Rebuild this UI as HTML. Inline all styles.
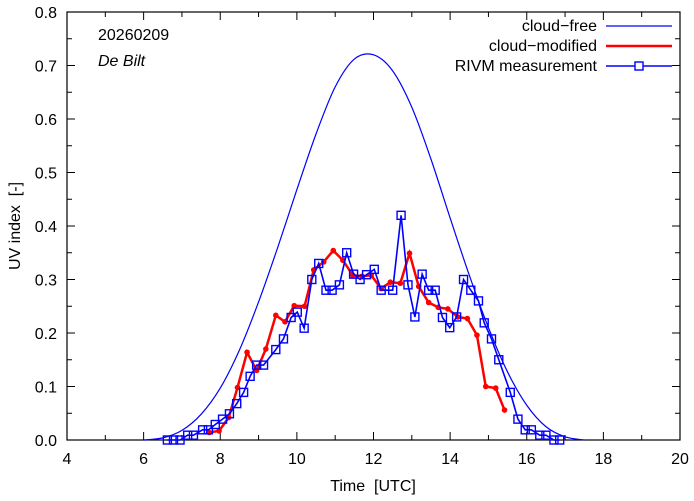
<!DOCTYPE html>
<html><head><meta charset="utf-8"><style>
body{margin:0;background:#fff}
svg{display:block;font-family:"Liberation Sans",sans-serif}
text{white-space:pre}
</style></head><body>
<svg id="c" width="694" height="501"></svg>
<script>
const xTicks=[4,6,8,10,12,14,16,18,20];
const yTicks=[0.0,0.1,0.2,0.3,0.4,0.5,0.6,0.7,0.8];
const clearT=[6.0,6.5,7,7.5,8,8.5,9,9.5,10,10.5,11,11.5,12,12.5,13,13.5,14,14.5,15,15.5,16,16.5,17,17.5];
const clearV=[0,0.004,0.018,0.048,0.097,0.168,0.258,0.36,0.468,0.572,0.66,0.712,0.72,0.69,0.622,0.525,0.415,0.308,0.21,0.127,0.065,0.025,0.006,0];
const modT=[7.71,7.97,8.22,8.45,8.70,8.95,9.19,9.45,9.69,9.93,10.20,10.44,10.70,10.95,11.20,11.46,11.70,11.94,12.20,12.44,12.70,12.94,13.18,13.44,13.69,13.94,14.20,14.45,14.70,14.93,15.19,15.42];
const modV=[0.014,0.017,0.042,0.098,0.164,0.13,0.17,0.233,0.221,0.251,0.25,0.318,0.333,0.354,0.336,0.308,0.306,0.308,0.283,0.295,0.293,0.349,0.287,0.257,0.248,0.245,0.23,0.227,0.196,0.10,0.097,0.056];
const measT=[6.62,6.78,6.95,7.15,7.30,7.54,7.69,7.87,8.06,8.24,8.43,8.61,8.78,8.95,9.13,9.45,9.65,9.85,10.01,10.19,10.39,10.57,10.76,10.92,11.11,11.30,11.48,11.65,11.82,12.02,12.20,12.50,12.72,12.90,13.08,13.27,13.44,13.61,13.80,13.99,14.17,14.35,14.54,14.74,14.89,15.08,15.27,15.57,15.77,15.96,16.12,16.34,16.50,16.71,16.86];
const measV=[0,0,0,0.009,0.009,0.019,0.019,0.029,0.039,0.049,0.068,0.089,0.119,0.14,0.14,0.169,0.189,0.229,0.239,0.209,0.30,0.33,0.28,0.28,0.29,0.35,0.31,0.30,0.309,0.319,0.28,0.28,0.42,0.29,0.23,0.31,0.28,0.28,0.229,0.21,0.23,0.30,0.28,0.26,0.219,0.189,0.15,0.089,0.039,0.019,0.019,0.009,0.009,0,0];
const L=67,R=680,T=12,B=440;
const X=t=>L+(t-4)/16*(R-L), Y=v=>B-v/0.8*(B-T);
const svg=document.getElementById('c');const NS='http://www.w3.org/2000/svg';
function mk(tag,at,parent){const e=document.createElementNS(NS,tag);for(const k in at)e.setAttribute(k,at[k]);(parent||svg).appendChild(e);return e;}
const ax=mk('g',{});


for(let h=4;h<=20;h++){const x=X(h);const len=h%2==0?8:5;mk('line',{x1:x,x2:x,y1:B,y2:B-len,stroke:'#000'},ax);mk('line',{x1:x,x2:x,y1:T,y2:T+len,stroke:'#000'},ax);}
for(let i=0;i<=16;i++){const y=Y(i*0.05);const len=i%2==0?8:5;mk('line',{x1:L,x2:L+len,y1:y,y2:y,stroke:'#000'},ax);mk('line',{x1:R,x2:R-len,y1:y,y2:y,stroke:'#000'},ax);}
mk('rect',{x:L,y:T,width:R-L,height:B-T,fill:'none',stroke:'#000','stroke-width':1.2},ax);
xTicks.forEach(t=>{const e=mk('text',{x:X(t),y:B+24,'text-anchor':'middle','font-size':16},ax);e.textContent=t;

});
yTicks.forEach(v=>{const e=mk('text',{x:L-10,y:Y(v)+6,'text-anchor':'end','font-size':16},ax);e.textContent=v.toFixed(1);

});
let e=mk('text',{x:373,y:491,'text-anchor':'middle','font-size':16});e.textContent='Time  [UTC]';


e=mk('text',{x:20,y:226,'text-anchor':'middle','font-size':16,transform:'rotate(-90 20 226)'});e.textContent='UV index  [-]';


e=mk('text',{x:98,y:40,'font-size':16});e.textContent='20260209';


e=mk('text',{x:98,y:66,'font-size':16,'font-style':'italic'});e.textContent='De Bilt';


function smooth(ts,vs){const p=ts.map((t,i)=>[X(t),Y(vs[i])]);let d='M'+p[0];for(let i=0;i<p.length-1;i++){const p0=p[i-1]||p[i],p1=p[i],p2=p[i+1],p3=p[i+2]||p2;d+=`C${p1[0]+(p2[0]-p0[0])/6},${p1[1]+(p2[1]-p0[1])/6} ${p2[0]-(p3[0]-p1[0])/6},${p2[1]-(p3[1]-p1[1])/6} ${p2[0]},${p2[1]}`;}return d;}
e=mk('path',{d:smooth(clearT,clearV),fill:'none',stroke:'#0000ff','stroke-width':1.2});


e=mk('polyline',{points:modT.map((t,i)=>X(t)+','+Y(modV[i])).join(' '),fill:'none',stroke:'#ff0000','stroke-width':2.5});


modT.forEach((t,i)=>{const c=mk('circle',{cx:X(t),cy:Y(modV[i]),r:2.8,fill:'#ff0000'});

});
e=mk('polyline',{points:measT.map((t,i)=>X(t)+','+Y(measV[i])).join(' '),fill:'none',stroke:'#0000ff','stroke-width':1.6});


measT.forEach((t,i)=>{const r=mk('rect',{x:X(t)-4,y:Y(measV[i])-4,width:8,height:8,fill:'none',stroke:'#0000ff','stroke-width':1.4});

});
const lg=mk('g',{});


const items=[['cloud\u2212free','#0000ff',1.2,false],['cloud\u2212modified','#ff0000',2.5,false],['RIVM measurement','#0000ff',1.6,true]];
items.forEach((it,i)=>{const y=26+i*20;const t=mk('text',{x:597,y:y+5,'text-anchor':'end','font-size':16},lg);t.textContent=it[0];


mk('line',{x1:606,x2:672,y1:y,y2:y,stroke:it[1],'stroke-width':it[2]},lg);
if(it[3])mk('rect',{x:635,y:y-4,width:8,height:8,fill:'#fff',stroke:it[1],'stroke-width':1.4},lg);});
</script>
</body></html>
